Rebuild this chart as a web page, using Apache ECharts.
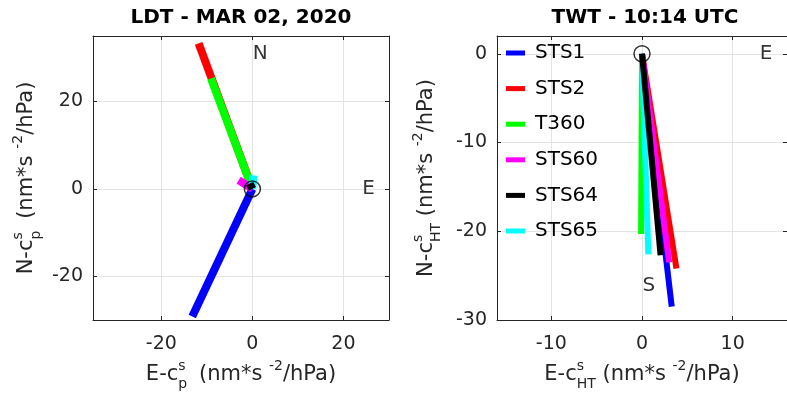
<!DOCTYPE html>
<html>
<head>
<meta charset="utf-8">
<script src="https://cdn.jsdelivr.net/npm/echarts@6/dist/echarts.min.js"></script>
<style>
  html, body { margin: 0; padding: 0; background: #fff; }
  #chart { width: 787px; height: 400px; }
</style>
</head>
<body>
<div id="chart"></div>
<script>
// station names (same order in both panels)
const stations = ['STS1', 'STS2', 'T360', 'STS60', 'STS64', 'STS65'];
const colors = ['#0000ff', '#ff0000', '#00ff00', '#ff00ff', '#000000', '#00ffff'];

// LDT panel: end points of each vector (start at origin)
const ldtEast  = [-13.2, -11.8, -9.1, -3.0, -0.6, 0.2];
const ldtNorth = [-29.2, 33.3, 25.3, 2.0, 1.2, 3.1];

// TWT panel: end points of each vector (start at origin)
const twtEast  = [3.28, 3.8, -0.1, 3.0, 2.05, 0.7];
const twtNorth = [-28.5, -24.2, -20.3, -23.5, -22.7, -22.6];

// compass letters
const ldtMarks = [['N', 1.7, 31], ['E', 25.5, 0]];
const twtMarks = [['E', 13.7, 0], ['S', 0.75, -26.1]];

// tick values
const ldtXTicks = [-20, 0, 20];
const ldtYTicks = [-20, 0, 20];
const twtXTicks = [-10, 0, 10];
const twtYTicks = [-30, -20, -10, 0];

const font = 'DejaVu Sans';
const ink = '#262626';

let myChart = echarts.init(document.getElementById('chart'), null, {renderer: 'canvas'});

// rich text for the axis names (superscript / subscript), all tokens left-aligned
// so the zero-width superscript sits right above the subscript
const axisRich = {
  m:    {fontFamily: font, fontSize: 21, lineHeight: 32, color: ink, align: 'left'},
  sup:  {fontFamily: font, fontSize: 14, lineHeight: 14, verticalAlign: 'top', width: 0, color: ink, align: 'left'},
  subp: {fontFamily: font, fontSize: 14, lineHeight: 14, verticalAlign: 'bottom', width: 14, color: ink, align: 'left'},
  sub:  {fontFamily: font, fontSize: 14, lineHeight: 14, verticalAlign: 'bottom', color: ink, align: 'left'},
  sup2: {fontFamily: font, fontSize: 14, lineHeight: 14, verticalAlign: 'top', color: ink, align: 'left'}
};

function mainAxis(grid, pos, min, max, ticks, name, gap){
  let isX = (pos === 'bottom');
  return {
    type: 'value', gridIndex: grid, position: pos, min: min, max: max,
    name: name, nameLocation: 'middle', nameGap: gap,
    nameTextStyle: {fontFamily: font, fontSize: 21, color: ink, rich: axisRich},
    axisLine: {show: true, onZero: false, lineStyle: {color: ink, width: 1}},
    axisTick: {show: true, inside: true, length: 4, customValues: ticks, lineStyle: {color: ink}},
    axisLabel: {customValues: ticks, margin: isX ? 15 : 10, fontFamily: font, fontSize: 19, color: ink},
    splitLine: {show: true, lineStyle: {color: '#e3e3e3', width: 1}}
  };
}
function boxAxis(grid, pos, min, max, ticks){
  return {
    type: 'value', gridIndex: grid, position: pos, min: min, max: max,
    axisLine: {show: true, onZero: false, lineStyle: {color: ink, width: 1}},
    axisTick: {show: true, inside: true, length: 4, customValues: ticks, lineStyle: {color: ink}},
    axisLabel: {show: false},
    splitLine: {show: false}
  };
}

let series = [];
// vectors, LDT panel (grid 0) then TWT panel (grid 1)
[[ldtEast, ldtNorth, 0, 8], [twtEast, twtNorth, 1, 6]].forEach(function(p){
  stations.forEach(function(st, i){
    series.push({
      name: st, type: 'line', xAxisIndex: p[2] * 2, yAxisIndex: p[2] * 2,
      z: st === 'STS64' ? 3 : 2, // black one sits on top
      data: [[0, 0], [p[0][i], p[1][i]]],
      symbol: 'none', color: colors[i],
      lineStyle: {width: p[3], color: colors[i], cap: 'butt'},
      silent: true
    });
  });
});
// origin circles
[0, 1].forEach(function(g){
  series.push({
    type: 'scatter', xAxisIndex: g * 2, yAxisIndex: g * 2, z: 5,
    data: [[0, 0]], symbol: 'circle', symbolSize: 16,
    itemStyle: {color: 'rgba(0,0,0,0)', borderColor: '#000', borderWidth: 1.5},
    silent: true
  });
});
// compass letters
[[ldtMarks, 0], [twtMarks, 1]].forEach(function(p){
  series.push({
    type: 'scatter', xAxisIndex: p[1] * 2, yAxisIndex: p[1] * 2, z: 6,
    data: p[0].map(function(m){ return {name: m[0], value: [m[1], m[2]]}; }),
    symbol: 'circle', symbolSize: 1,
    itemStyle: {color: 'rgba(0,0,0,0)'},
    label: {show: true, position: 'inside', formatter: '{b}', fontFamily: font, fontSize: 20, color: '#000'},
    silent: true
  });
});

let option = {
  animation: false,
  backgroundColor: '#fff',
  textStyle: {fontFamily: font},
  title: [
    {text: 'LDT - MAR 02, 2020', left: 241, top: 8, padding: 0, textAlign: 'center',
     textStyle: {fontFamily: font, fontSize: 20, fontWeight: 'bold', color: '#000'}},
    {text: 'TWT - 10:14 UTC', left: 645, top: 8, padding: 0, textAlign: 'center',
     textStyle: {fontFamily: font, fontSize: 20, fontWeight: 'bold', color: '#000'}}
  ],
  legend: {
    data: stations, orient: 'vertical', left: 506, top: 43, padding: 0,
    itemWidth: 19, itemHeight: 5, itemGap: 15.6, icon: 'rect', selectedMode: false,
    textStyle: {fontFamily: font, fontSize: 20, color: '#000', padding: [0, 0, 0, 5]}
  },
  grid: [
    {left: 93, top: 36, width: 296, height: 284},
    {left: 497, top: 36, width: 297, height: 284}
  ],
  xAxis: [
    mainAxis(0, 'bottom', -35, 30, ldtXTicks, '{m|E-c}{sup|s}{subp|p}{m| (nm*s }{sup2|-2}{m|/hPa)}', 38),
    boxAxis(0, 'top', -35, 30, ldtXTicks),
    mainAxis(1, 'bottom', -16, 16, twtXTicks, '{m|E-c}{sup|s}{sub|HT}{m| (nm*s }{sup2|-2}{m|/hPa)}', 38),
    boxAxis(1, 'top', -16, 16, twtXTicks)
  ],
  yAxis: [
    mainAxis(0, 'left', -30, 35, ldtYTicks, '{m|N-c}{sup|s}{subp|p}{m| (nm*s }{sup2|-2}{m|/hPa)}', 50),
    boxAxis(0, 'right', -30, 35, ldtYTicks),
    mainAxis(1, 'left', -30, 2, twtYTicks, '{m|N-c}{sup|s}{sub|HT}{m| (nm*s }{sup2|-2}{m|/hPa)}', 54),
    boxAxis(1, 'right', -30, 2, twtYTicks)
  ],
  series: series
};

window.onresize = myChart.resize;
myChart.setOption(option);
</script>
</body>
</html>
